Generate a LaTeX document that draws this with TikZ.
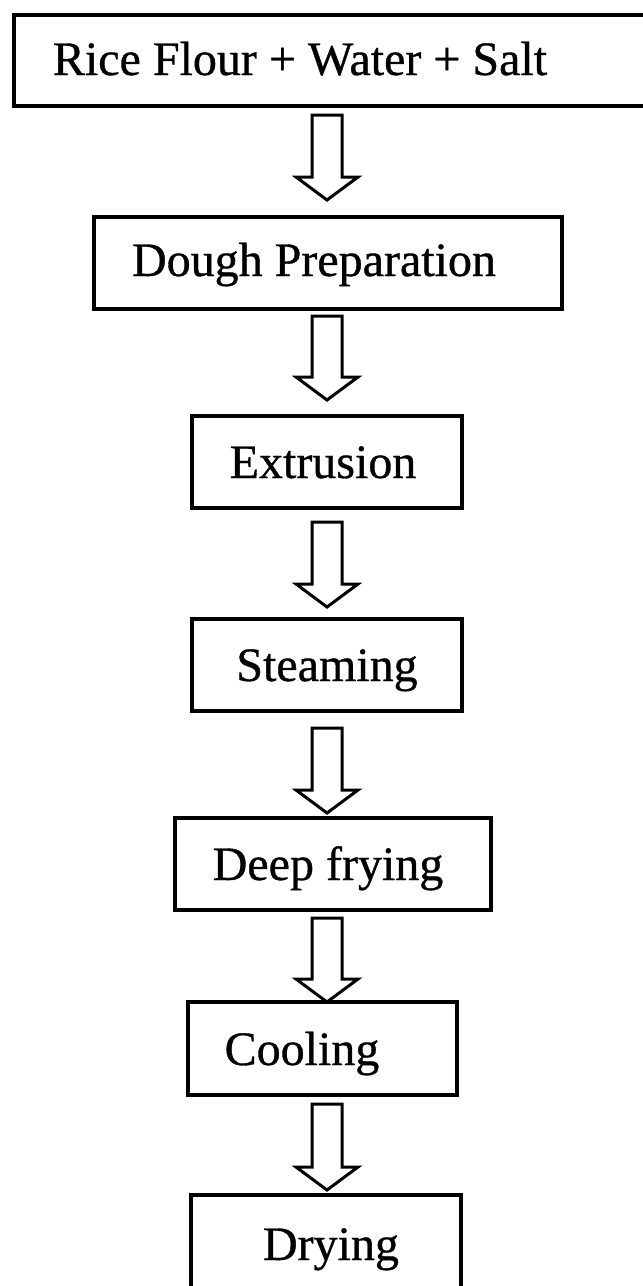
\documentclass[tikz,border=0pt]{standalone}
\usepackage{fontspec}
\setmainfont{Liberation Serif}
\newfontfamily\scanfont{Liberation Serif}[FakeBold=0.7]
\usetikzlibrary{calc}
\newcommand\blockarrow[2]{%
  \draw[blockarr] let \p1=(#1), \p2=(#2) in
    (\x1-15pt,\y1) -- (\x1+15pt,\y1) -- (\x1+15pt,\y2+23pt) -- (\x1+31pt,\y2+23pt)
    -- (\x1,\y2) -- (\x1-31pt,\y2+23pt) -- (\x1-15pt,\y2+23pt) -- cycle;}
\begin{document}
\begin{tikzpicture}[x=1pt,y=-1pt,
  box/.style={draw, line width=3.2pt, inner sep=0pt, outer sep=0pt, rectangle},
  lbl/.style={font=\scanfont\fontsize{48}{56}\selectfont, inner sep=0pt, anchor=base},
  blockarr/.style={draw, line width=3pt, line join=miter}]
\useasboundingbox (0,0) rectangle (643,1286);
\fill[white] (0,0) rectangle (643,1286);
% boxes
\node[box, minimum width=636pt, minimum height=91pt] (b1) at (332,60.5) {};
\node[box, minimum width=468pt, minimum height=92pt] (b2) at (328,263) {};
\node[box, minimum width=270pt, minimum height=92pt] (b3) at (327,462) {};
\node[box, minimum width=270pt, minimum height=92pt] (b4) at (327,665) {};
\node[box, minimum width=316pt, minimum height=92pt] (b5) at (333,864) {};
\node[box, minimum width=269pt, minimum height=93pt] (b6) at (322.5,1048.5) {};
\node[box, minimum width=270pt, minimum height=105pt] (b7) at (326,1247.5) {};
% labels
\node[lbl] (t1) at (300,75) {Rice Flour + Water + Salt};
\node[lbl] (t2) at (314,276) {Dough Preparation};
\node[lbl] (t3) at (323,478) {Extrusion};
\node[lbl] (t4) at (327,681) {Steaming};
\node[lbl] (t5) at (328,880) {Deep frying};
\node[lbl] (t6) at (302,1065) {Cooling};
\node[lbl] (t7) at (331,1260) {Drying};
% arrows
\coordinate (ax) at (327,0);
\coordinate (a1s) at ($(b1.south -| ax)+(0,9)$);
\coordinate (a1e) at ($(b2.north -| ax)+(0,-17)$);
\coordinate (a2s) at ($(b2.south -| ax)+(0,7)$);
\coordinate (a2e) at ($(b3.north -| ax)+(0,-16)$);
\coordinate (a3s) at ($(b3.south -| ax)+(0,14)$);
\coordinate (a3e) at ($(b4.north -| ax)+(0,-12)$);
\coordinate (a4s) at ($(b4.south -| ax)+(0,17)$);
\coordinate (a4e) at ($(b5.north -| ax)+(0,-5)$);
\coordinate (a5s) at ($(b5.south -| ax)+(0,8)$);
\coordinate (a5e) at ($(b6.north -| ax)+(0,0)$);
\coordinate (a6s) at ($(b6.south -| ax)+(0,9)$);
\coordinate (a6e) at ($(b7.north -| ax)+(0,-5)$);
\blockarrow{a1s}{a1e}
\blockarrow{a2s}{a2e}
\blockarrow{a3s}{a3e}
\blockarrow{a4s}{a4e}
\blockarrow{a5s}{a5e}
\blockarrow{a6s}{a6e}
\end{tikzpicture}
\end{document}
